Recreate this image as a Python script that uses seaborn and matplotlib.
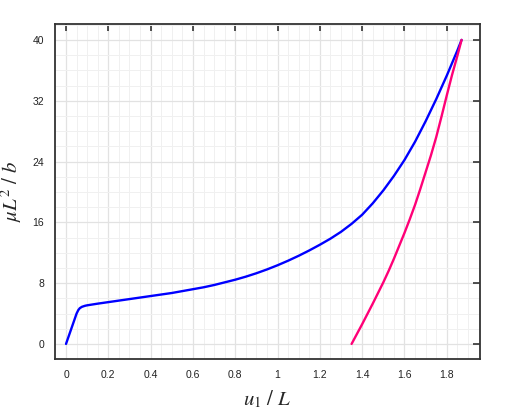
import matplotlib
matplotlib.use("Agg")
import matplotlib.pyplot as plt
from matplotlib.ticker import MultipleLocator, FuncFormatter
import seaborn as sns
import pandas as pd

# courbe bleue (branche principale)
u_blue = [0, 0.02, 0.04, 0.05, 0.058, 0.065, 0.075, 0.09, 0.1, 0.15, 0.2,
          0.25, 0.3, 0.35, 0.4, 0.45, 0.5, 0.55, 0.6, 0.65, 0.7, 0.75, 0.8,
          0.85, 0.9, 0.95, 1.0, 1.05, 1.1, 1.15, 1.2, 1.25, 1.3, 1.35, 1.4,
          1.45, 1.5, 1.55, 1.6, 1.65, 1.7, 1.75, 1.8, 1.85, 1.87]
mu_blue = [0, 1.6, 3.2, 4.0, 4.45, 4.7, 4.88, 5.02, 5.08, 5.3, 5.5,
           5.7, 5.9, 6.1, 6.3, 6.5, 6.7, 6.95, 7.2, 7.45, 7.75, 8.1, 8.45,
           8.85, 9.3, 9.8, 10.35, 10.95, 11.6, 12.3, 13.05, 13.85, 14.75, 15.8, 17.0,
           18.5, 20.2, 22.1, 24.2, 26.6, 29.3, 32.2, 35.3, 38.6, 40]

# courbe magenta
u_mag = [1.35, 1.375, 1.4, 1.425, 1.45, 1.475, 1.5, 1.525, 1.55, 1.575, 1.6,
         1.625, 1.65, 1.675, 1.7, 1.725, 1.75, 1.775, 1.8, 1.825, 1.85, 1.87]
mu_mag = [0, 1.3, 2.6, 3.95, 5.3, 6.7, 8.1, 9.6, 11.2, 12.9, 14.6,
          16.4, 18.3, 20.4, 22.6, 24.8, 27.2, 29.9, 32.7, 35.4, 37.9, 40]

x_ticks = [0, 0.2, 0.4, 0.6, 0.8, 1.0, 1.2, 1.4, 1.6, 1.8]
y_ticks = [0, 8, 16, 24, 32, 40]

df = pd.concat([
    pd.DataFrame({"u": u_blue, "mu": mu_blue, "branche": "a"}),
    pd.DataFrame({"u": u_mag, "mu": mu_mag, "branche": "b"}),
])

sns.set_style("white")
plt.rcParams["mathtext.fontset"] = "stix"
plt.rcParams["font.family"] = ["Liberation Sans", "DejaVu Sans"]

fig = plt.figure(figsize=(5.24, 4.13), dpi=100)
ax = fig.add_axes([0.105, 0.131, 0.811, 0.811])

sns.lineplot(data=df, x="u", y="mu", hue="branche", sort=False,
             palette={"a": "#0000ff", "b": "#ff0077"}, linewidth=1.7,
             legend=False, ax=ax)

ax.set_xlim(-0.052, 1.957)
ax.set_ylim(-1.97, 42.1)
ax.set_xticks(x_ticks)
ax.set_yticks(y_ticks)
ax.xaxis.set_major_formatter(FuncFormatter(lambda v, p: f"{v:g}"))
ax.xaxis.set_minor_locator(MultipleLocator(0.05))
ax.yaxis.set_minor_locator(MultipleLocator(2))

ax.grid(which="major", color="#e2e2e2", linewidth=0.9)
ax.grid(which="minor", color="#f0f0f0", linewidth=0.7)
ax.set_axisbelow(True)

ax.tick_params(which="major", direction="in", length=5, width=1.1,
               top=True, right=True, labelsize=7.5, colors="#222222",
               pad=8)
ax.tick_params(which="minor", length=0)
for s in ax.spines.values():
    s.set_color("#333333")
    s.set_linewidth(1.3)

ax.set_xlabel(r"$u_1\ /\ L$", fontsize=15, labelpad=6)
ax.set_ylabel(r"$\mu L^2\ /\ b$", fontsize=15, labelpad=6)

fig.savefig("out.png", dpi=100)
